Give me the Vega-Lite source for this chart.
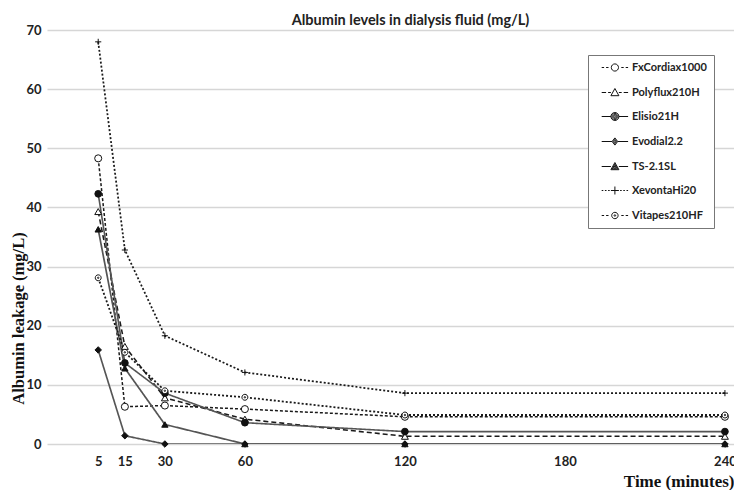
{
  "$schema": "https://vega.github.io/schema/vega-lite/v6.json",
  "width": 687,
  "height": 414,
  "autosize": {"type": "none"},
  "padding": {"left": 47, "top": 30, "right": 0, "bottom": 46},
  "background": "white",
  "title": {"text": "Albumin levels in dialysis fluid (mg/L)", "font": "Lato", "fontSize": 14.5, "fontWeight": "bold", "color": "#222", "dx": 20, "offset": -4},
  "data": {"values": [
    {"series": "FxCordiax1000", "time": 5, "value": 48.3},
    {"series": "FxCordiax1000", "time": 15, "value": 6.3},
    {"series": "FxCordiax1000", "time": 30, "value": 6.5},
    {"series": "FxCordiax1000", "time": 60, "value": 5.9},
    {"series": "FxCordiax1000", "time": 120, "value": 4.6},
    {"series": "FxCordiax1000", "time": 240, "value": 4.6},
    {"series": "Polyflux210H", "time": 5, "value": 39.3},
    {"series": "Polyflux210H", "time": 15, "value": 16.5},
    {"series": "Polyflux210H", "time": 30, "value": 7.8},
    {"series": "Polyflux210H", "time": 60, "value": 4.2},
    {"series": "Polyflux210H", "time": 120, "value": 1.3},
    {"series": "Polyflux210H", "time": 240, "value": 1.3},
    {"series": "Elisio21H", "time": 5, "value": 42.3},
    {"series": "Elisio21H", "time": 15, "value": 13.7},
    {"series": "Elisio21H", "time": 30, "value": 8.6},
    {"series": "Elisio21H", "time": 60, "value": 3.6},
    {"series": "Elisio21H", "time": 120, "value": 2.1},
    {"series": "Elisio21H", "time": 240, "value": 2.1},
    {"series": "Evodial2.2", "time": 5, "value": 15.9},
    {"series": "Evodial2.2", "time": 15, "value": 1.4},
    {"series": "Evodial2.2", "time": 30, "value": 0},
    {"series": "Evodial2.2", "time": 60, "value": 0},
    {"series": "Evodial2.2", "time": 120, "value": 0},
    {"series": "Evodial2.2", "time": 240, "value": 0},
    {"series": "TS-2.1SL", "time": 5, "value": 36.3},
    {"series": "TS-2.1SL", "time": 15, "value": 12.8},
    {"series": "TS-2.1SL", "time": 30, "value": 3.3},
    {"series": "TS-2.1SL", "time": 60, "value": 0},
    {"series": "TS-2.1SL", "time": 120, "value": 0},
    {"series": "TS-2.1SL", "time": 240, "value": 0},
    {"series": "XevontaHi20", "time": 5, "value": 68.0},
    {"series": "XevontaHi20", "time": 15, "value": 32.8},
    {"series": "XevontaHi20", "time": 30, "value": 18.3},
    {"series": "XevontaHi20", "time": 60, "value": 12.1},
    {"series": "XevontaHi20", "time": 120, "value": 8.6},
    {"series": "XevontaHi20", "time": 240, "value": 8.6},
    {"series": "Vitapes210HF", "time": 5, "value": 28.1},
    {"series": "Vitapes210HF", "time": 15, "value": 15.5},
    {"series": "Vitapes210HF", "time": 30, "value": 9.0},
    {"series": "Vitapes210HF", "time": 60, "value": 7.9},
    {"series": "Vitapes210HF", "time": 120, "value": 4.9},
    {"series": "Vitapes210HF", "time": 240, "value": 4.9}
  ]},
  "encoding": {
    "x": {"field": "time", "type": "quantitative",
      "scale": {"domain": [-14.2, 243.4], "nice": false, "zero": false},
      "axis": {"values": [5, 15, 30, 60, 120, 180, 240], "grid": false, "domain": false, "ticks": false,
        "labelFont": "Lato", "labelFontSize": 13, "labelFontWeight": "bold", "labelColor": "#222", "labelPadding": 11, "labelOverlap": false,
        "title": "Time (minutes)", "titleFont": "Liberation Serif", "titleFontSize": 17, "titleFontWeight": "bold", "titleColor": "#111",
        "titleAlign": "right", "titleAnchor": "end", "titleX": 687, "titleY": 42, "titleBaseline": "alphabetic"}},
    "y": {"field": "value", "type": "quantitative",
      "scale": {"domain": [0, 70], "nice": false},
      "axis": {"values": [0, 10, 20, 30, 40, 50, 60, 70], "grid": true, "gridColor": "#d6d6d6", "gridWidth": 1.5, "domain": false, "ticks": false,
        "labelFont": "Lato", "labelFontSize": 13, "labelFontWeight": "bold", "labelColor": "#222", "labelPadding": 6,
        "title": "Albumin leakage (mg/L)", "titleFont": "Liberation Serif", "titleFontSize": 16.5, "titleFontWeight": "bold", "titleColor": "#111",
        "titleX": -29, "titleY": 288, "titleBaseline": "middle", "titleAngle": -90}}
  },
  "layer": [
    {
      "mark": {"type": "line", "clip": true},
      "encoding": {
        "detail": {"field": "series"},
        "stroke": {"field": "series", "type": "nominal", "legend": null,
          "scale": {"domain": ["FxCordiax1000", "Polyflux210H", "Elisio21H", "Evodial2.2", "TS-2.1SL", "XevontaHi20", "Vitapes210HF"],
            "range": ["#1a1a1a", "#1a1a1a", "#555555", "#555555", "#555555", "#1a1a1a", "#1a1a1a"]}},
        "strokeDash": {"field": "series", "type": "nominal", "legend": null,
          "scale": {"domain": ["FxCordiax1000", "Polyflux210H", "Elisio21H", "Evodial2.2", "TS-2.1SL", "XevontaHi20", "Vitapes210HF"],
            "range": [[3, 2], [5, 3], [1, 0], [1, 0], [1, 0], [2, 2], [2, 2]]}},
        "strokeWidth": {"field": "series", "type": "nominal", "legend": null,
          "scale": {"domain": ["FxCordiax1000", "Polyflux210H", "Elisio21H", "Evodial2.2", "TS-2.1SL", "XevontaHi20", "Vitapes210HF"],
            "range": [1.5, 1.8, 1.1, 1.1, 1.1, 1.5, 1.5]}}
      }
    },
    {
      "mark": {"type": "point", "filled": true, "stroke": "#111", "strokeWidth": 1, "opacity": 1},
      "encoding": {
        "shape": {"field": "series", "type": "nominal", "legend": null,
          "scale": {"domain": ["FxCordiax1000", "Polyflux210H", "Elisio21H", "Evodial2.2", "TS-2.1SL", "XevontaHi20", "Vitapes210HF"],
            "range": ["circle", "triangle-up", "circle", "diamond", "triangle-up", "M-1,0L1,0M0,-1L0,1", "M1,0A1,1 0 1 1 -1,0A1,1 0 1 1 1,0M0.25,0A0.25,0.25 0 1 1 -0.25,0A0.25,0.25 0 1 1 0.25,0"]}},
        "fill": {"field": "series", "type": "nominal", "legend": null,
          "scale": {"domain": ["FxCordiax1000", "Polyflux210H", "Elisio21H", "Evodial2.2", "TS-2.1SL", "XevontaHi20", "Vitapes210HF"],
            "range": ["#ffffff", "#ffffff", "#111111", "#111111", "#111111", "#ffffff", "#ffffff"]}},
        "size": {"field": "series", "type": "nominal", "legend": null,
          "scale": {"domain": ["FxCordiax1000", "Polyflux210H", "Elisio21H", "Evodial2.2", "TS-2.1SL", "XevontaHi20", "Vitapes210HF"],
            "range": [50, 35, 60, 28, 35, 60, 40]}}
      }
    },
    {
      "mark": {"type": "point", "opacity": 0, "size": 64},
      "encoding": {
        "shape": {"field": "series", "type": "nominal",
          "scale": {"domain": ["FxCordiax1000", "Polyflux210H", "Elisio21H", "Evodial2.2", "TS-2.1SL", "XevontaHi20", "Vitapes210HF"],
            "range": [
              "M0.3,0L0.9,0M1.4,0L2.0,0M2.7,0A0.9,0.9 0 1 1 4.5,0A0.9,0.9 0 1 1 2.7,0M5.2,0L5.8,0M6.3,0L6.9,0",
              "M0.3,0L1.4,0M1.9,0L2.6,0M3.6,-1L4.6,0.8L2.6,0.8ZM4.6,0L5.3,0M5.8,0L6.9,0",
              "M0.3,0L2.6,0M4.6,0A1,1 0 1 1 2.6,0A1,1 0 1 1 4.6,0M4.35,0A0.75,0.75 0 1 1 2.85,0A0.75,0.75 0 1 1 4.35,0M4.1,0A0.5,0.5 0 1 1 3.1,0A0.5,0.5 0 1 1 4.1,0M3.85,0A0.25,0.25 0 1 1 3.35,0A0.25,0.25 0 1 1 3.85,0M4.6,0L6.9,0",
              "M0.3,0L2.9,0M3.6,-0.9L4.3,0L3.6,0.9L2.9,0ZM3.6,-0.54L4.02,0L3.6,0.54L3.18,0ZM3.6,-0.22L3.78,0L3.6,0.22L3.42,0ZM4.3,0L6.9,0",
              "M0.3,0L2.6,0M3.6,-1L4.6,0.8L2.6,0.8ZM3.6,-0.59L4.26,0.6L2.94,0.6ZM3.6,-0.2L3.93,0.4L3.27,0.4ZM4.6,0L6.9,0",
              "M0.3,0L0.7,0M1.1,0L1.5,0M1.9,0L2.3,0M2.6,0L4.6,0M3.6,-1L3.6,1M4.9,0L5.3,0M5.7,0L6.1,0M6.5,0L6.9,0",
              "M0.3,0L0.9,0M1.4,0L2.0,0M2.8,0A0.8,0.8 0 1 1 4.4,0A0.8,0.8 0 1 1 2.8,0M3.8,0A0.2,0.2 0 1 1 3.4,0A0.2,0.2 0 1 1 3.8,0M5.2,0L5.8,0M6.3,0L6.9,0"
            ]}},
        "opacity": {"value": 0}
      }
    }
  ],
  "resolve": {"scale": {"shape": "independent"}, "legend": {"shape": "independent"}},
  "config": {
    "view": {"stroke": null},
    "legend": {
      "orient": "none", "legendX": 541, "legendY": 25, "title": null,
      "strokeColor": "#777", "fillColor": "#ffffff", "padding": 7,
      "symbolSize": 64, "symbolOpacity": 1, "symbolStrokeColor": "#111", "symbolStrokeWidth": 1,
      "labelFont": "Lato", "labelFontSize": 11, "labelFontWeight": "bold", "labelColor": "#222", "labelOffset": 26,
      "rowPadding": 12, "labelLimit": 200
    }
  }
}
